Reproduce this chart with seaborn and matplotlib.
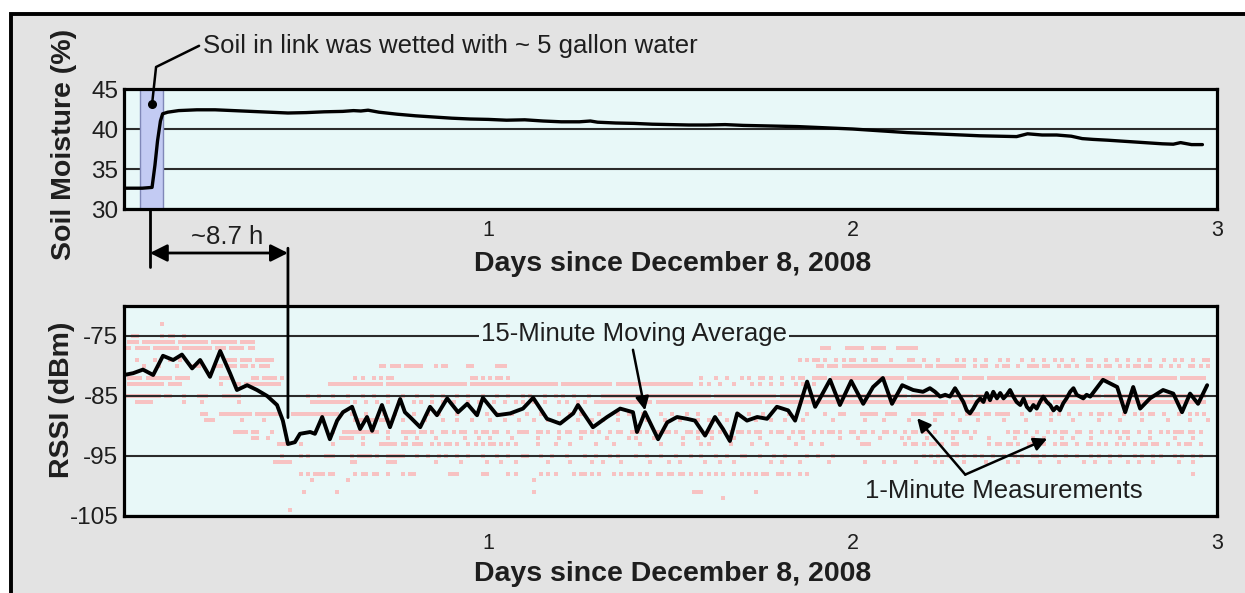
import numpy as np
import pandas as pd
import seaborn as sns
import matplotlib
matplotlib.use("Agg")
import matplotlib.pyplot as plt
from matplotlib.patches import Rectangle, ConnectionPatch

# ---------------- data ----------------
soil_days = [0.00, 0.05, 0.077, 0.085, 0.092, 0.100, 0.106, 0.12, 0.15, 0.20, 0.25,
             0.30, 0.35, 0.40, 0.45, 0.50, 0.55, 0.60, 0.63, 0.65, 0.67, 0.70, 0.75,
             0.80, 0.85, 0.90, 0.95, 1.00, 1.05, 1.10, 1.15, 1.20, 1.25, 1.28, 1.30,
             1.35, 1.40, 1.45, 1.50, 1.55, 1.60, 1.65, 1.70, 1.75, 1.80, 1.85, 1.90,
             1.95, 2.00, 2.05, 2.10, 2.15, 2.20, 2.25, 2.30, 2.35, 2.40, 2.45, 2.48,
             2.52, 2.56, 2.60, 2.63, 2.66, 2.70, 2.75, 2.80, 2.85, 2.88, 2.90, 2.93, 2.96]
soil_pct = [32.6, 32.6, 32.7, 35.5, 38.5, 41.0, 41.9, 42.1, 42.3, 42.4, 42.4,
            42.3, 42.2, 42.1, 42.0, 42.05, 42.15, 42.2, 42.3, 42.25, 42.35, 42.1, 41.85,
            41.65, 41.5, 41.35, 41.25, 41.2, 41.1, 41.15, 41.0, 40.9, 40.9, 41.0, 40.85,
            40.75, 40.7, 40.6, 40.55, 40.5, 40.5, 40.55, 40.45, 40.4, 40.35, 40.3, 40.2,
            40.1, 40.0, 39.85, 39.7, 39.55, 39.45, 39.35, 39.25, 39.15, 39.1, 39.05, 39.4,
            39.25, 39.25, 39.1, 38.8, 38.7, 38.6, 38.45, 38.3, 38.15, 38.1, 38.3, 38.05, 38.05]

ma_days = [0.000, 0.025, 0.052, 0.080, 0.107, 0.135, 0.159, 0.187, 0.209, 0.236, 0.264,
           0.291, 0.310, 0.338, 0.365, 0.393, 0.420, 0.436, 0.450, 0.469, 0.483, 0.511,
           0.524, 0.544, 0.565, 0.585, 0.601, 0.626, 0.648, 0.667, 0.681, 0.708, 0.730,
           0.758, 0.771, 0.785, 0.813, 0.840, 0.859, 0.887, 0.917, 0.942, 0.969, 0.985,
           1.024, 1.060, 1.095, 1.123, 1.161, 1.197, 1.233, 1.246, 1.287, 1.326, 1.362,
           1.397, 1.408, 1.430, 1.466, 1.491, 1.518, 1.545, 1.567, 1.595, 1.622, 1.644,
           1.663, 1.683, 1.710, 1.738, 1.765, 1.792, 1.823, 1.842, 1.875, 1.897, 1.911,
           1.938, 1.965, 1.996, 2.029, 2.056, 2.083, 2.108, 2.136, 2.166, 2.193,
           2.212, 2.226, 2.240, 2.254, 2.267, 2.281, 2.295, 2.304, 2.313, 2.322, 2.331,
           2.341, 2.350, 2.359, 2.368, 2.377, 2.386, 2.396, 2.405, 2.414, 2.423, 2.432,
           2.441, 2.450, 2.460, 2.469, 2.478, 2.487, 2.496, 2.505, 2.514, 2.523, 2.533,
           2.542, 2.551, 2.560, 2.569, 2.578, 2.587, 2.597, 2.606, 2.615, 2.624, 2.633,
           2.642, 2.652,
           2.687, 2.726, 2.748, 2.770, 2.789, 2.816, 2.852,
           2.880, 2.904, 2.926, 2.948, 2.973]
ma_dbm = [-81.5, -81.2, -80.6, -81.5, -78.3, -79.0, -78.1, -80.4, -79.0, -81.8, -77.5,
          -81.2, -84.0, -83.2, -84.0, -85.0, -86.5, -89.1, -93.0, -92.7, -91.3, -91.0,
          -91.3, -88.5, -92.2, -89.1, -87.7, -86.8, -90.5, -88.5, -90.8, -86.5, -90.2,
          -85.5, -87.7, -88.5, -90.2, -86.8, -88.2, -85.4, -87.7, -86.3, -88.2, -85.3,
          -88.2, -87.9, -87.1, -85.3, -88.8, -89.6, -87.9, -86.5, -90.2, -88.5, -87.1,
          -87.7, -91.0, -87.7, -92.2, -89.4, -88.5, -88.8, -89.1, -91.6, -88.5, -90.5,
          -92.5, -87.9, -89.1, -88.5, -88.8, -86.8, -87.4, -89.1, -82.6, -86.8, -85.3,
          -82.3, -86.5, -82.5, -86.3, -83.5, -82.0, -86.3, -83.2, -84.0, -84.3,
          -83.7, -84.3, -85.1, -84.8, -85.1, -83.7, -85.1, -86.0, -87.4, -87.9, -87.1,
          -86.0, -85.4, -86.0, -84.5, -85.7, -84.3, -85.4, -84.5, -85.4, -84.8, -84.0,
          -85.1, -86.0, -86.5, -85.4, -86.8, -87.4, -86.5, -87.1, -86.0, -85.1, -86.0,
          -86.5, -87.4, -86.8, -87.4, -86.2, -85.4, -84.3, -83.7, -84.8, -85.1, -85.4,
          -84.8, -85.1,
          -82.3, -83.5, -87.7, -83.5, -87.1, -85.4, -84.0,
          -84.6, -87.7, -84.6, -86.3, -83.2]

# 1-minute measurements: for each RSSI level, a presence map in 0.01-day bins
# (six half-day chunks, '#' = measurement seen in the picture)
meas_levels = [-73, -75, -76, -77, -79, -80, -82, -83, -85, -86, -88, -89,
               -91, -92, -93, -95, -96, -98, -99, -101, -102, -104]
meas_maps = [
    [".......... #......... .......... .......... ..........", "", "", "", "", ""],
    ["..##...... #.##..#... .......... .......... ..........", "", "", "", "", ""],
    [".###.##### ####.##### ###.###### #.####.... ..........", "", "", "", "", ""],
    ["##.####.## #####.#### ####.###.# ###.##.... ..........", "", "",
     ".......... .......... .......... .......... .###....##",
     "###..####. ..######.. .......... .......... ..........", ""],
    ["...#....#. ..#..#.... ........## #.###.#### #.........", "", "",
     ".......... .......... .......... .....#.#.# #.#..#.#.#",
     "#..#.##... #....##..# ...#....#. #..#..#... #.#...#..#",
     "..#..#.#.. #...##...# ..#..#..#. .#...#..#. #..#..##.."],
    [".....#...# ....#...## #....##.## #.##.#.### ..........",
     ".......... .......... ##.###.### ##...#.##. ....##....",
     "..###..... .......... .......... .......... ..........",
     ".......... .......... .......... .......... ##.###.###",
     "########## #########. ##.####### #..#.##..# .##..#..##",
     "#.##..#.## .#..##.#.# #..#.#.##. ##..#..#.# ..##.#.#.."],
    [".####.#### ###.####.. ......#### .....##.## ##.#......",
     ".......... ...#.#..#. #.##...... .......... .....##.#.",
     "#.##.#.... .......... .......... .......... ..........",
     "........#. ..#..#...# .#..##.#.. #..#.##..# ###.######",
     "########## ####.##### #########. ######.### ##########",
     "########## #####.#### ##.####### #########. #######..."],
    [".######### #.####.... ......#... ##.####### ###.......",
     "......#### ########## #.######## ########## ####.#####",
     "########## #########. ########## ####.##### ##########",
     "######..#. #..#...#.. ..#.#..#.. #...#.#..# ..........", "", ""],
    ["########## .##...#... ###....### ##........ ..........",
     "#..#...#.. .#...#..#. ..#...#... #...#..#.. .#..#...#.",
     "..#..#...# .#...#..#. #..#...#.. .######### ##.#######",
     "########## #.######## #########. ########## ##########",
     "########## #####.#### ########## ###.###### ##########",
     "########## ########.# ########## #.######## #######..."],
    ["...#####.. ......#... .#........ .#........ ..........",
     ".######### ##.#..#..# ..#..#...# .#..#..#.. #...#..#..",
     ".#..#..#.# ..#..#...# .#..#.#..# ########## #####.####",
     "########## ########## #####.#### ########## ##########",
     "########## ########## ######.### ########## ##########",
     "####.##### ########## ########## ########## #######..."],
    [".......... .......... .##...#### #####.#### ###...####",
     "#########. ..#...#... .#..#....# ...#..#... .#....#..#",
     "..#...#... #...#....# ..#..#.... #....#..#. ..#....#..",
     "#...#..#.. ...#....#. .#...#.... ..#....#.. ..#...##..",
     "..#####..# ##....#### ..###..#.. .####.##.# ###...#...",
     "##..#.#..# ..#..#.##. #...#..#.# .##..#...# ..#.#.#..."],
    [".......... .......... ..###..... ..#.....#. ..........",
     ".......... ...######. ###...#... ..#....#.. .#...#....",
     "#...#...#. ..#...#... ....#...#. .#...#.... ...#....#.",
     "..#....#.. #....#.... ...#...#.. .#....#... ....#.....",
     "...#....#. .....#.... ..#......# ....#..... .#.....#..",
     "....#..... #......#.. ...#.....# ......#... ..#....#.."],
    [".......... .......... .......... ####.##... #.........",
     ".......#.. ########## ..#...#### .##.#..##. #.##..#.##",
     ".##..#..## #..##.#..# .##..##.#. #..#.##..# ##.#..#.##",
     ".#..##.#.. ##.#..#.## .#.##..#.# #..#.##..# .#.##.#..#",
     "#.##.#..## .#..#.##.# #.#..#.##. ##.#...... ..#.##.#..",
     "#..#.#.##. .##..#..#. #.#.##..#. .#..#.#.## #.##.#...."],
    [".......... .......... .......... .....##..# ..........",
     ".........# ###..#.... ..#....#.. #....#.... ...#...#..",
     "#.....#... ...#.....# .....#.... ..#.....#. #....#....",
     "...#...#.. .#.....#.. ....#..... ..#...#... ......#...",
     ".#.....#.. ...#.#.... #......#.. ..#....#.. ....#....#",
     "..#....#.. #....#.... ...#.#.... .#......#. ...#......"],
    [".......... .......... .......... .......... ..###...#.",
     ".......#.. .....#.... #####.##.# ##..#.#.## .#..#.#.#.",
     "##.#.#.#.. ...#....#. ..#......# ....#..... .#.....#..",
     "...#....#. #.....#... ..#...#... ....#...#. .#........",
     "..###..... ....#.##.# .##.#..##. .......#.# #.##.#..##",
     "#.#..#.##. .#..##.#.# ..#.#..#.# #.##..#..# .##..#...."],
    [".......... .......... .......... .......... ...#....#.",
     "#....###.. ..#.####.# ..#####... #..#..#.#. .#..#...#.",
     "..#..#...# #...#..#.. .#....#..# ...#.#.... #..#...#..",
     ".#...#..#. ..#..#...# #...#...#. .#.....#.. #...#.....",
     ".......... .........# .#.#..#.#. #..#.#..#. .#..#.#..#",
     "#.#..#..#. .#...#.#.. #..#...#.# ..#.#...#. #..#.#...."],
    [".......... .......... .......... .......... .#####....",
     ".......... ..##...... ..###..... .....#.... ..#......#",
     "...#...#.. ......#... ..#.....#. .#....#... ....#....#",
     "..#......# ...#...#.. .......#.. #....#.... ...#......",
     "...#....#. .#.....#.. ..#.#..... #.....#... ..#..#....",
     ".#....#... ...#..#... #....#..#. ..#......# ...#......"],
    [".......... .......... .......... .......... ........#.",
     "#.###.##.. ...#.##.## ..#...#.## .........# ##......##",
     ".....#.#.. ....#.#.#. ...#.##.#. #...#.#.## .#.#..##.#",
     "#.##.#..#. #.#.#..#.# .#.#.##..# #.#..#.#.. ..........",
     "", ".......... .......... .......... .......... ...#......"],
    ["", ".#........ .#........ .......... .......... ..........",
     ".......... ..#....... .......... .......... ..........", "", "", ""],
    [".......... .......... .......... .......... .........#",
     "........#. .......... .......... .......... ..........",
     ".......... ..#....... .......... .......... ..........",
     "......###. .......... ...#...... .......... ..........", "", ""],
    ["", "", "", ".......... ....#..... .......... .......... ..........", "", ""],
    [".......... .......... .......... .......... .....#....", "", "", "", "", ""],
]

soil_ticks = [30, 35, 40, 45]
rssi_ticks = [-105, -95, -85, -75]
day_ticks = [1, 2, 3]
day_labels = ["1", "2", "3"]


def map_to_days(chunks):
    xs = []
    for k, ch in enumerate(chunks):
        ch = ch.replace(" ", "")
        n = len(ch)
        for i, c in enumerate(ch):
            if c == "#":
                xs.append(0.5 * k + (i + 0.5) * 0.5 / n)
    return xs


mx, my = [], []
for lvl, chunks in zip(meas_levels, meas_maps):
    d = map_to_days(chunks)
    mx += d
    my += [lvl] * len(d)
meas = pd.DataFrame({"day": mx, "rssi": my})
soil = pd.DataFrame({"day": soil_days, "pct": soil_pct})
ma = pd.DataFrame({"day": ma_days, "rssi": ma_dbm})

# ---------------- styling ----------------
sns.set_style("white")
plt.rcParams["font.family"] = ["Liberation Sans", "DejaVu Sans"]

W, H = 1245, 593
GRAY = "#e3e3e3"
AXF = "#e8f8f8"
PINK = "#f7c2c2"
TXT = "#1e1e1e"

fig = plt.figure(figsize=(W / 100, H / 100), dpi=100)
fig.patch.set_facecolor("white")
frame = Rectangle((10.5 / W, -0.05), 1.2, 1 - 14 / H + 0.05, transform=fig.transFigure,
                  facecolor=GRAY, edgecolor="black", linewidth=2.8, zorder=-10)
fig.add_artist(frame)

ax1 = fig.add_axes([124 / W, 1 - 209 / H, 1093 / W, 120 / H])
ax2 = fig.add_axes([124 / W, 1 - 516 / H, 1093 / W, 210 / H])

for ax, yt, ylim in [(ax1, soil_ticks, (30, 45)), (ax2, rssi_ticks, (-105, -70))]:
    ax.set_facecolor(AXF)
    ax.set_xlim(0, 3)
    ax.set_ylim(*ylim)
    ax.set_yticks(yt)
    ax.set_yticklabels([str(v) for v in yt])
    ax.set_xticks(day_ticks)
    ax.set_xticklabels(day_labels)
    ax.set_axisbelow(True)
    ax.grid(axis="y", color="#2b2b2b", linewidth=1.5)
    ax.grid(axis="x", visible=False)
    for sp in ax.spines.values():
        sp.set_visible(True)
        sp.set_color("black")
        sp.set_linewidth(2.3)
    ax.tick_params(axis="x", direction="in", length=7, width=1.6, color="#222222",
                   labelsize=15.5, labelcolor=TXT)
    ax.tick_params(axis="y", length=0, labelsize=17.5, pad=4, labelcolor=TXT)

ax1.tick_params(axis="x", pad=8)
ax2.tick_params(axis="x", pad=12)

# shaded wetting interval
ax1.axvspan(0.044, 0.107, facecolor="#c3cbf3", edgecolor="#8088b8", linewidth=1.0, zorder=0.6)

sns.lineplot(data=soil, x="day", y="pct", ax=ax1, color="black", linewidth=2.4,
             estimator=None, sort=False, zorder=3)
sns.scatterplot(data=meas, x="day", y="rssi", ax=ax2, color=PINK, marker="s", s=8,
                linewidth=0, zorder=0.4)
sns.lineplot(data=ma, x="day", y="rssi", ax=ax2, color="black", linewidth=2.8,
             estimator=None, sort=False, zorder=3)

lab_kw = dict(fontsize=20.5, fontweight="bold", color=TXT)
ax1.set_xlabel("Days since December 8, 2008", **lab_kw)
ax2.set_xlabel("Days since December 8, 2008", **lab_kw)
ax1.set_ylabel("Soil Moisture (%)", **lab_kw)
ax2.set_ylabel("RSSI (dBm)", **lab_kw)
ax1.xaxis.set_label_coords(0.502, -0.35)
ax2.xaxis.set_label_coords(0.502, -0.214)
ax1.yaxis.set_label_coords(-0.043, 0.542)
ax2.yaxis.set_label_coords(-0.045, 0.552)

# ---------------- annotations ----------------
ann_kw = dict(fontsize=18.5, color=TXT)
ax1.plot([0.077, 0.088, 0.206], [43.1, 47.75, 50.4], color="black", linewidth=1.8,
         clip_on=False, zorder=4)
ax1.plot([0.077], [43.1], marker="o", markersize=5.5, color="black", zorder=4)
ax1.text(0.217, 50.4, "Soil in link was wetted with ~ 5 gallon water", ha="left",
         va="center", clip_on=False, **ann_kw)

ax1.plot([0.071, 0.071], [30, 22.75], color="black", linewidth=2.0, clip_on=False)
ax1.annotate("", xy=(0.45, 24.5), xytext=(0.071, 24.5), annotation_clip=False,
             arrowprops=dict(arrowstyle="<|-|>", mutation_scale=26, color="black",
                             linewidth=2.0, shrinkA=0, shrinkB=0))
ax1.text(0.283, 26.5, "~8.7 h", ha="center", va="center", clip_on=False, **ann_kw)
con = ConnectionPatch(xyA=(0.45, 25.1), coordsA=ax1.transData,
                      xyB=(0.45, -88.6), coordsB=ax2.transData,
                      color="black", linewidth=2.0, zorder=5)
fig.add_artist(con)

ax2.text(1.40, -74.6, "15-Minute Moving Average", ha="center", va="center",
         bbox=dict(facecolor=AXF, edgecolor="none", pad=1.5), zorder=6, **ann_kw)
ax2.annotate("", xy=(1.43, -87.4), xytext=(1.397, -77.3),
             arrowprops=dict(arrowstyle="-|>", mutation_scale=20, color="black",
                             linewidth=1.8, shrinkA=0, shrinkB=0), zorder=6)
ax2.text(2.416, -100.8, "1-Minute Measurements", ha="center", va="center", zorder=6,
         **ann_kw)
for tx, ty in [(2.177, -88.7), (2.534, -92.1)]:
    ax2.annotate("", xy=(tx, ty), xytext=(2.309, -98.1),
                 arrowprops=dict(arrowstyle="-|>", mutation_scale=20, color="black",
                                 linewidth=1.8, shrinkA=0, shrinkB=0), zorder=6)

fig.savefig("out.png", dpi=100, facecolor=fig.get_facecolor())
